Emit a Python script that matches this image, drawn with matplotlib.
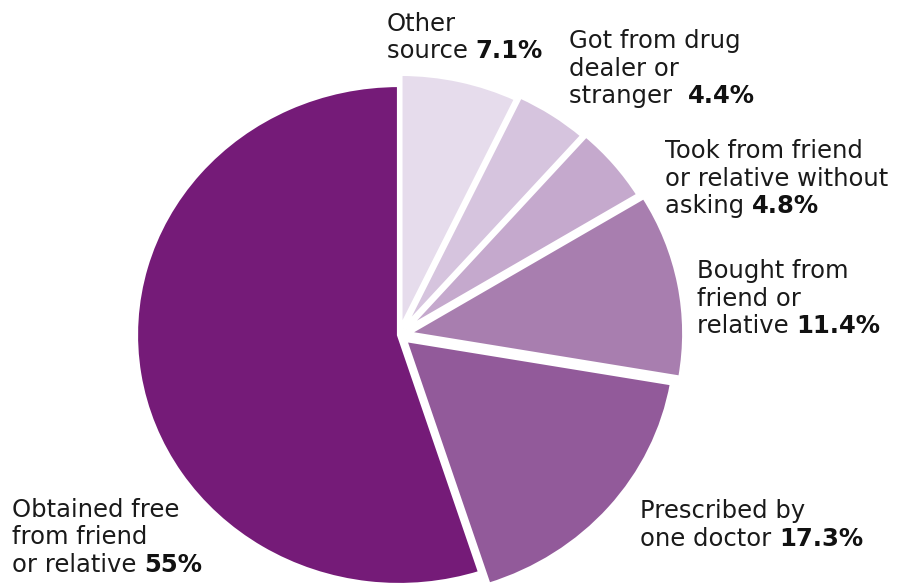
import matplotlib
matplotlib.use("Agg")
import matplotlib.pyplot as plt

# slices, clockwise from the top
labels = ["Other source", "Got from drug dealer or stranger",
          "Took from friend or relative without asking",
          "Bought from friend or relative", "Prescribed by one doctor",
          "Obtained free from friend or relative"]
shares = [7.1, 4.4, 4.8, 11.4, 17.3, 55]
colors = ["#e6dcec", "#d6c4de", "#c5a9cd", "#a87eaf", "#925a9a", "#751b78"]
explode = [0.025, 0.03, 0.035, 0.035, 0.03, 0.0]
radii = [1.02, 1.03, 1.035, 1.05, 1.03, 1.0]

# label text: plain lines, then bold percent on the last line
label_lines = [
    ["Other", "source "],
    ["Got from drug", "dealer or", "stranger  "],
    ["Took from friend", "or relative without", "asking "],
    ["Bought from", "friend or", "relative "],
    ["Prescribed by", "one doctor "],
    ["Obtained free", "from friend", "or relative "],
]
pct_text = ["7.1%", "4.4%", "4.8%", "11.4%", "17.3%", "55%"]
# left x and first baseline in pixels (from top)
label_pos = [(387, 31), (569, 48), (665, 158), (697, 278), (640, 518), (12, 517)]

W, H = 898, 585
fig = plt.figure(figsize=(W / 100, H / 100), dpi=100)

# pie is a bit wider than tall in the original
cx, cy = 399, 335
rx, ry = 263, 250
ax = fig.add_axes([0, 0, 1, 1])
wedges, _ = ax.pie(shares, colors=colors, explode=explode, startangle=90,
                   counterclock=False, frame=True,
                   wedgeprops=dict(edgecolor="white", linewidth=3))
for w, r in zip(wedges, radii):
    w.set_radius(r)
ax.set_aspect("auto")
ax.set_xlim(-cx / rx, (W - cx) / rx)
ax.set_ylim(-(H - cy) / ry, cy / ry)
ax.axis("off")

fs = 17.5
line_h = 27.5
renderer = fig.canvas.get_renderer()
for lines, pct, (x, y) in zip(label_lines, pct_text, label_pos):
    for i, s in enumerate(lines):
        yy = y + i * line_h
        t = fig.text(x / W, 1 - yy / H, s, fontsize=fs, color="#1a1a1a",
                     ha="left", va="baseline")
        if i == len(lines) - 1:
            w = t.get_window_extent(renderer).width
            fig.text((x + w) / W, 1 - yy / H, pct, fontsize=fs,
                     fontweight="bold", color="#111111",
                     ha="left", va="baseline")

fig.savefig("out.png", dpi=100)
